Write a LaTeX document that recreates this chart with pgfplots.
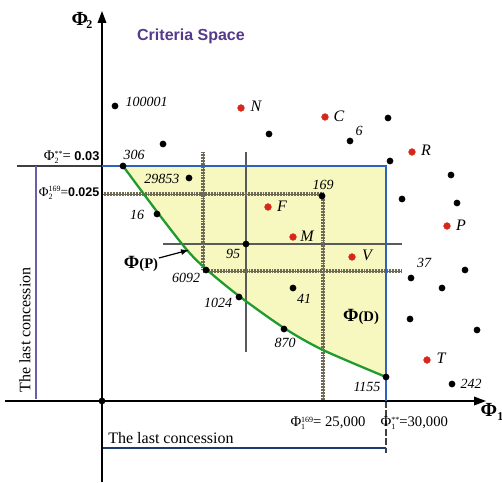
\documentclass[border=0pt]{standalone}
\usepackage{fontspec}
\setmainfont{Liberation Serif}
\newfontfamily\arialfont{Liberation Sans}
\usepackage{pgfplots}
\pgfplotsset{compat=1.18}
\usepgfplotslibrary{fillbetween}
\usetikzlibrary{arrows.meta}

\definecolor{rectblue}{HTML}{2F62C0}
\definecolor{paretogreen}{HTML}{1F9A2E}
\definecolor{zonefill}{HTML}{F7F7C0}
\definecolor{rulercol}{HTML}{6E6A55}
\definecolor{titlepurple}{HTML}{553A8A}
\definecolor{concpurple}{HTML}{6C5FA8}
\definecolor{altred}{HTML}{D8261C}
\definecolor{guidegray}{HTML}{5A5A5A}

\newcommand{\lbl}{\fontsize{10.5}{12}\selectfont\itshape}
% stacked superscript / subscript after a symbol
\newcommand{\supsub}[2]{{\fontsize{6}{6}\selectfont\setbox0\hbox{#1}\setbox2\hbox{#2}%
  \ifdim\wd0>\wd2 \rlap{\raisebox{-0.9ex}{#2}}\raisebox{1.1ex}{#1}%
  \else\rlap{\raisebox{1.1ex}{#1}}\raisebox{-0.9ex}{#2}\fi}}

\begin{document}
\begin{tikzpicture}
\begin{axis}[
  scale only axis, width=376.5pt, height=361.5pt,
  xmin=0, xmax=502, ymin=0, ymax=482, y dir=reverse,
  axis lines=none, ticks=none, clip=false,
  ruler/.style={rulercol, line width=2.8pt, dash pattern=on 0.5pt off 0.65pt},
  rulerline/.style={rulercol, line width=0.7pt},
]
\coordinate (bbtl) at (axis cs:0,0);
\coordinate (bbbr) at (axis cs:502,482);

% compromise zone between the Pareto front and the concession limits
\addplot[name path=pareto, draw=none, smooth, tension=0.5] coordinates {
  (123,166) (158,213) (187,250) (206,269) (239,296) (284,328) (323,350) (386,377)};
\addplot[name path=topline, draw=none] coordinates {(123,166) (386,166)};
\addplot[zonefill] fill between[of=pareto and topline];

% guide lines through point 95
\addplot[guidegray, line width=0.8pt] coordinates {(246,152) (246,352)};
\addplot[guidegray, line width=0.8pt] coordinates {(163,244) (402,244)};

% hatched rulers
\addplot[ruler] coordinates {(102,194) (323,194)};
\addplot[rulerline] coordinates {(102,194) (323,194)};
\addplot[ruler] coordinates {(203,152) (203,270)};
\addplot[rulerline] coordinates {(203,152) (203,270)};
\addplot[ruler] coordinates {(203,271) (402,271)};
\addplot[rulerline] coordinates {(203,271) (402,271)};
\addplot[ruler] coordinates {(323,194) (323,401)};
\addplot[rulerline] coordinates {(323,194) (323,401)};

% concession lines
\addplot[guidegray!70!black, line width=0.9pt] coordinates {(17,166) (102,166)};
\addplot[concpurple, line width=0.9pt] coordinates {(36,166) (36,399)};
\addplot[rectblue!60!black, line width=0.9pt] coordinates {(102,448) (386,448)};
\addplot[black!75, line width=0.9pt, dash pattern=on 5pt off 2pt] coordinates {(386,401) (386,453)};

% axes
\addplot[black, line width=1pt, -{Triangle[length=9pt,width=6.5pt]}] coordinates {(102,482) (102,11)};
\addplot[black, line width=1pt, -{Triangle[length=9pt,width=6.5pt]}] coordinates {(5,401) (486,401)};

% Pareto front
\addplot[paretogreen, line width=1.7pt, smooth, tension=0.5] coordinates {
  (123,166) (158,213) (187,250) (206,269) (239,296) (284,328) (323,350) (386,377)};

% constraint rectangle
\addplot[rectblue, line width=1.7pt] coordinates {(102,166) (386,166) (386,401)};

% arrow to the Pareto front
\addplot[black, line width=0.9pt, -{Latex[length=6pt,width=4.5pt]}] coordinates {(159,258) (189,250)};

% design points
\addplot[only marks, mark=*, mark size=2.3pt, black] coordinates {
  (115,106) (163,144) (269,134) (350,141) (388,118) (390,161) (451,175)
  (402,199) (457,203) (123,166) (189,178) (322,196) (157,214) (246,244)
  (206,270) (239,297) (293,288) (284,329) (386,377) (411,278) (465,270)
  (442,288) (410,319) (477,330) (452,384) (102,401)};

% named alternatives
\addplot[only marks, mark=*, mark size=2.5pt, altred] coordinates {
  (241,108) (325,117) (412,152) (268,207) (447,226) (293,237) (352,257) (427,360)};

% point labels
\node[font=\lbl, anchor=west] at (axis cs:121,102) {100001};
\node[font=\lbl] at (axis cs:359,131) {6};
\node[font=\lbl] at (axis cs:134,155) {306};
\node[font=\lbl, anchor=east] at (axis cs:184,179) {29853};
\node[font=\lbl] at (axis cs:323,185) {169};
\node[font=\lbl] at (axis cs:137,215) {16};
\node[font=\lbl] at (axis cs:233,254) {95};
\node[font=\lbl] at (axis cs:186,278) {6092};
\node[font=\lbl] at (axis cs:218,303) {1024};
\node[font=\lbl] at (axis cs:304,299) {41};
\node[font=\lbl] at (axis cs:285,343) {870};
\node[font=\lbl] at (axis cs:367,387) {1155};
\node[font=\lbl] at (axis cs:424,263) {37};
\node[font=\lbl, anchor=west] at (axis cs:456,384) {242};

\node[font=\fontsize{12}{12}\selectfont\itshape] at (axis cs:256,106) {N};
\node[font=\fontsize{12}{12}\selectfont\itshape] at (axis cs:339,116) {C};
\node[font=\fontsize{12}{12}\selectfont\itshape] at (axis cs:426,150) {R};
\node[font=\fontsize{12}{12}\selectfont\itshape] at (axis cs:282,206) {F};
\node[font=\fontsize{12}{12}\selectfont\itshape] at (axis cs:461,225) {P};
\node[font=\fontsize{12}{12}\selectfont\itshape] at (axis cs:307,236) {M};
\node[font=\fontsize{12}{12}\selectfont\itshape] at (axis cs:367,255) {V};
\node[font=\fontsize{12}{12}\selectfont\itshape] at (axis cs:441,358) {T};

% set labels
\node at (axis cs:141,264) {{\fontsize{14}{14}\selectfont\bfseries Φ}{\fontsize{11}{11}\selectfont\bfseries (P)}};
\node at (axis cs:361,317) {{\fontsize{14}{14}\selectfont\bfseries Φ}{\fontsize{11}{11}\selectfont\bfseries (D)}};

% title and axis names
\node[font=\arialfont\bfseries\fontsize{12}{14}\selectfont, text=titlepurple] at (axis cs:191,36) {Criteria Space};
\node[anchor=east] at (axis cs:93,19) {\fontsize{15}{15}\selectfont\bfseries Φ};
\node[anchor=west, inner sep=0pt] at (axis cs:86,25) {\fontsize{9}{9}\selectfont\bfseries 2};
\node[anchor=west] at (axis cs:476,412) {\fontsize{15}{15}\selectfont\bfseries Φ\raisebox{-0.5ex}{\fontsize{9}{9}\selectfont 1}};

% limit values
\node[anchor=east, inner sep=1pt] at (axis cs:101,157) {\fontsize{11}{12}\selectfont Φ\supsub{**}{2}= {\arialfont\bfseries\fontsize{9.6}{10}\selectfont 0.03}};
\node[anchor=east, inner sep=1pt] at (axis cs:101,193) {\fontsize{10}{12}\selectfont Φ\supsub{169}{2}={\arialfont\bfseries\fontsize{9.4}{10}\selectfont 0.025}};
\node[inner sep=1pt] at (axis cs:328,423) {\fontsize{11}{12}\selectfont Φ\supsub{169}{1}= 25,000};
\node[anchor=west, inner sep=1pt] at (axis cs:379,423) {\fontsize{11}{12}\selectfont Φ\supsub{**}{1}=30,000};

% concession captions
\node[font=\fontsize{12}{12}\selectfont] at (axis cs:171,438) {The last concession};
\node[font=\fontsize{12}{12}\selectfont, rotate=90] at (axis cs:25,330) {The last concession};
\end{axis}
\pgfresetboundingbox
\useasboundingbox (bbtl) rectangle (bbbr);
\end{tikzpicture}
\end{document}
